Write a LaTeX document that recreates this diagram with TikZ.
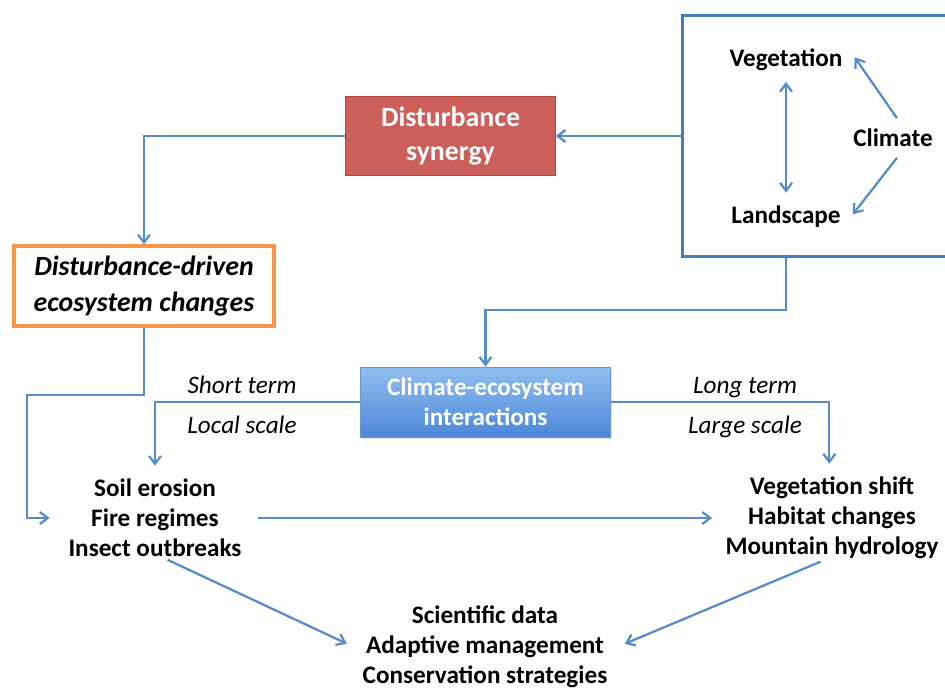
\documentclass[tikz,border=0pt]{standalone}
\usepackage{fontspec}
\setmainfont{Carlito}
\usetikzlibrary{arrows.meta,calc,shadows}
\definecolor{lnblue}{RGB}{85,140,200}
\definecolor{boxblue}{RGB}{70,125,190}
\definecolor{synred}{RGB}{205,95,90}
\definecolor{synredb}{RGB}{175,70,65}
\definecolor{orng}{RGB}{247,150,70}
\definecolor{cetop}{RGB}{145,190,240}
\definecolor{cebot}{RGB}{75,135,215}
\tikzset{
  conn/.style={draw=lnblue,line width=1.7pt,-{Straight Barb[length=6pt,width=9pt,line width=1.7pt]}},
  txt/.style={font=\fontsize{19}{22.5}\selectfont\bfseries,align=center,inner sep=0pt},
  itl/.style={font=\fontsize{19}{22}\selectfont\itshape,inner sep=0pt,text height=10pt,text depth=3.5pt},
}
\begin{document}
\begin{tikzpicture}[x=0.0265cm,y=-0.0265cm]
\useasboundingbox (0,0) rectangle (945,688);
% big box
\node[draw=boxblue,line width=2.4pt,inner sep=0pt,minimum width=8.5cm,minimum height=6.4cm] (bigbox) at (843,136) {};
\node[txt] (veg) at (786,60) {Vegetation};
\node[txt] (clim) at (893,138) {Climate};
\node[txt] (land) at (786,217) {Landscape};
\draw[conn,{Straight Barb[length=6pt,width=9pt,line width=1.7pt]}-{Straight Barb[length=6pt,width=9pt,line width=1.7pt]},shorten <=8pt,shorten >=10pt] (veg.south) -- (land.north);
\draw[conn] ([xshift=3pt,yshift=8pt]clim.north) -- ([xshift=9pt,yshift=2pt]veg.east);
\draw[conn] ([xshift=3pt,yshift=-8pt]clim.south) -- ([xshift=9pt,yshift=2pt]land.east);
% disturbance synergy
\node[draw=synredb,fill=synred,line width=0.8pt,minimum width=5.55cm,minimum height=2.1cm,txt,font=\fontsize{21}{25.5}\selectfont\bfseries,text=white] (syn) at (450.5,136) {Disturbance\\synergy};
% disturbance driven
\node[draw=orng,line width=3pt,minimum width=6.9cm,minimum height=2.1cm,font=\fontsize{21}{27}\selectfont\bfseries\itshape,align=center] (dd) at (144,286) {Disturbance-driven\\ecosystem changes};
% climate-ecosystem
\node[draw=boxblue!80,line width=0.6pt,top color=cetop,bottom color=cebot,minimum width=6.63cm,minimum height=1.85cm,txt,text=white,drop shadow={opacity=0.25,shadow xshift=1pt,shadow yshift=-1.5pt}] (ce) at (485.5,402) {Climate-ecosystem\\interactions};
% text groups
\node[txt] (lg) at (155,518) {Soil erosion\\Fire regimes\\Insect outbreaks};
\node[txt] (rg) at (832,518) {Vegetation shift\\Habitat changes\\Mountain hydrology};
\node[txt] (bg) at (485,647) {Scientific data\\Adaptive management\\Conservation strategies};
% labels
\node[itl] (st) at (242,389) {Short term};
\node[itl] (ls) at (242,429) {Local scale};
\node[itl] (lt) at (745,389) {Long term};
\node[itl] (lgs) at (745,429) {Large scale};
% connectors
\draw[conn] (bigbox.west |- syn.east) -- (syn.east);
\draw[conn] (syn.west) -| (dd.north);
\coordinate (c1) at (27,395);
\draw[conn,shorten >=14pt] (dd.south) |- (c1) |- (lg.west);
\coordinate (c2) at (786,310);
\draw[conn] (c2 |- bigbox.south) -- (c2) -| (ce.north);
\draw[conn,shorten >=10pt] (ce.west) -| (lg.north);
\draw[conn,shorten >=10pt] (ce.east) -| ([xshift=-2]rg.north);
\draw[conn,shorten <=12pt,shorten >=10pt] (lg.east) -- (rg.west);
\draw[conn,shorten <=5pt,shorten >=13pt] ([xshift=5]lg.south) -- ([yshift=-3]bg.west);
\draw[conn,shorten <=5pt,shorten >=14pt] ([xshift=-4]rg.south) -- ([yshift=-3]bg.east);
\end{tikzpicture}
\end{document}
